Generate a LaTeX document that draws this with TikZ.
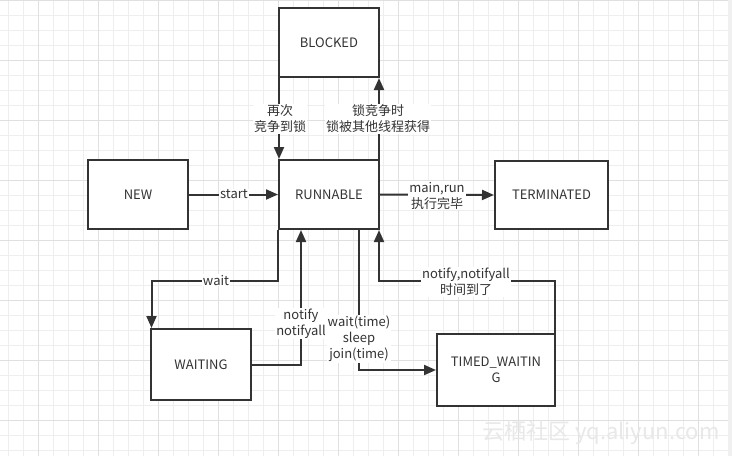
\documentclass[tikz,border=0pt]{standalone}
\usepackage{fontspec}
\setmainfont{Noto Sans CJK SC}
\usetikzlibrary{arrows.meta,calc}
\definecolor{ink}{HTML}{333333}
\definecolor{gridminor}{HTML}{EEEEEE}
\definecolor{gridmajor}{HTML}{E0E0E0}
\tikzset{
  statebox/.style={draw=ink, line width=2pt, fill=white, text=ink, font=\fontsize{13}{16}\selectfont, align=center, inner sep=0pt},
  arr/.style={draw=ink, line width=2pt, -{Triangle[length=12pt,width=10pt]}},
  lbl/.style={fill=white, text=ink, font=\fontsize{13}{16}\selectfont, align=center, inner sep=1pt},
}
\begin{document}
\begin{tikzpicture}[x=1pt,y=-1pt]
\useasboundingbox (0,0) rectangle (732,456);
\fill[white] (0,0) rectangle (732,456);
% grid
\foreach \i in {0,...,48} {
  \pgfmathsetmacro\xx{8+15*\i}
  \draw[gridminor, line width=0.8pt] (\xx,0) -- (\xx,456);
}
\foreach \i in {0,...,30} {
  \pgfmathsetmacro\yy{15*\i}
  \draw[gridminor, line width=0.8pt] (0,\yy) -- (732,\yy);
}
\foreach \i in {0,...,12} {
  \pgfmathsetmacro\xx{38+60*\i}
  \draw[gridmajor, line width=0.8pt] (\xx,0) -- (\xx,456);
}
\foreach \i in {0,...,7} {
  \pgfmathsetmacro\yy{60*\i}
  \draw[gridmajor, line width=0.8pt] (0,\yy) -- (732,\yy);
}
\fill[gray!12] (728,0) rectangle (732,456);

% states
\node[statebox, minimum width=100pt, minimum height=69pt] (blocked) at (329,42.5) {BLOCKED};
\node[statebox, minimum width=100pt, minimum height=69pt] (new) at (138,194.5) {NEW};
\node[statebox, minimum width=100pt, minimum height=69pt] (runnable) at (329,194.5) {RUNNABLE};
\node[statebox, minimum width=113pt, minimum height=68pt] (terminated) at (551.5,195) {TERMINATED};
\node[statebox, minimum width=100pt, minimum height=71pt] (waiting) at (201,364.5) {WAITING};
\node[statebox, minimum width=118pt, minimum height=72pt] (timed) at (496,370) {TIMED\_WAITIN\\G};

% connectors
\draw[arr] ([xshift=1pt]blocked.south west) -- ([xshift=1pt]runnable.north west);
\draw[arr] ([xshift=-1pt]runnable.north east) -- ([xshift=-1pt]blocked.south east);
\draw[arr] (new.east) -- (runnable.west);
\draw[arr] (runnable.east) -- (terminated.west);
\draw[arr] (runnable.south west) -- ++(0,51) coordinate (wcorner) -| ([xshift=1.5pt]waiting.north west);
\draw[arr] (waiting.east) -| ([xshift=-28pt]runnable.south);
\draw[arr] ([xshift=30pt]runnable.south) |- (timed.west);
\draw[arr] ([xshift=-1pt]timed.north east) |- ++(-10,-52) -| ([xshift=-1pt]runnable.south east);

% labels
\node[lbl] (lre) at (280,119) {再次\\竞争到锁};
\node[lbl] (llock) at (378,119) {锁竞争时\\锁被其他线程获得};
\node[lbl] (lstart) at (234,194.5) {start};
\node[lbl] (lmain) at (437,195.5) {main,run\\执行完毕};
\node[lbl] (lwait) at (216,280.3) {wait};
\node[lbl] (lnotify) at (301,323.5) {notify\\notifyall};
\node[lbl] (ltime) at (359,339) {wait(time)\\sleep\\join(time)};
\node[lbl] (ltimeout) at (466,282) {notify,notifyall\\时间到了};

% watermark
\node[text=gray!18, font=\fontsize{22}{22}\selectfont, anchor=west, inner sep=0pt] (wm) at (482,433) {云栖社区 yq.aliyun.com};
\end{tikzpicture}
\end{document}
